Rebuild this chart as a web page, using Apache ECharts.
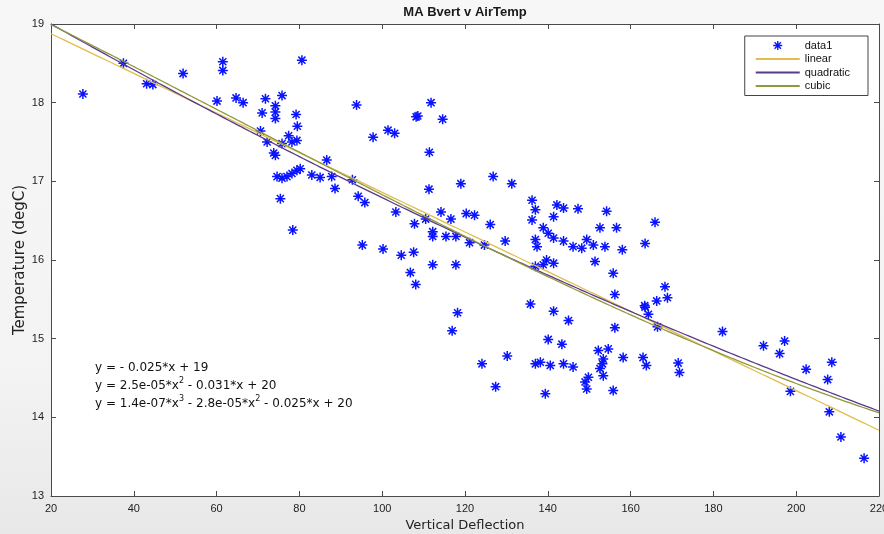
<!DOCTYPE html>
<html>
<head>
<meta charset="utf-8">
<script src="https://cdn.jsdelivr.net/npm/echarts@6/dist/echarts.min.js"></script>
<style>
  html, body { margin: 0; padding: 0; }
  #chart {
    width: 884px; height: 534px;
    background: linear-gradient(to bottom, #f7f7f7 0%, #f3f3f3 70%, #e8e8e8 100%);
  }
</style>
</head>
<body>
<div id="chart"></div>
<script>
// Vertical deflection readings and matching air temperature (degC)
const deflection = [
  27.7, 37.5, 43.1, 44.6, 51.9, 61.5, 61.5, 60.1, 64.7, 66.4,
  71.8, 75.8, 74.2, 74.2, 74.2, 71.0, 79.2, 79.5, 70.6, 72.2,
  77.4, 78.2, 79.4, 75.8, 74.2, 73.8, 80.6, 93.8, 97.8, 101.4,
  103.0, 108.2, 86.6, 80.2, 79.4, 78.2, 77.0, 75.8, 74.6, 83.0,
  85.0, 87.8, 88.6, 75.4, 92.8, 94.2, 95.8, 78.4, 103.3, 107.8,
  95.2, 100.2, 104.6, 107.6, 106.8, 108.1, 111.3, 110.5, 114.2, 116.6,
  112.2, 112.2, 115.4, 117.8, 112.2, 117.8, 118.2, 116.9, 111.8, 108.6,
  114.6, 111.4, 119.0, 126.8, 131.3, 120.3, 122.3, 126.1, 121.1, 124.7,
  129.7, 136.2, 137.0, 136.2, 142.2, 143.8, 141.4, 147.3, 154.2, 138.9,
  140.1, 141.4, 137.0, 137.4, 143.8, 146.1, 148.2, 149.4, 151.0, 152.6,
  156.6, 153.8, 158.0, 151.4, 139.7, 138.9, 137.0, 141.4, 155.8, 156.2,
  163.4, 135.8, 141.4, 145.0, 156.2, 140.1, 143.4, 124.1, 130.2, 137.0,
  138.2, 140.6, 143.8, 146.1, 152.2, 154.6, 153.4, 158.2, 163.0, 163.8,
  149.8, 149.0, 149.4, 152.6, 153.4, 155.8, 127.4, 139.4, 165.9, 163.5,
  168.3, 168.9, 166.3, 163.5, 164.3, 166.5, 182.2, 192.1, 197.2, 196.0,
  208.6, 202.4, 207.6, 198.6, 208.0, 210.8, 216.4, 171.5, 171.8, 153.2
];
const airTemp = [
  18.11, 18.50, 18.24, 18.23, 18.37, 18.52, 18.41, 18.02, 18.06, 18.00,
  18.05, 18.09, 17.96, 17.88, 17.80, 17.87, 17.85, 17.70, 17.64, 17.50,
  17.58, 17.50, 17.52, 17.48, 17.33, 17.36, 18.54, 17.97, 17.56, 17.65,
  17.61, 17.82, 17.27, 17.16, 17.14, 17.10, 17.06, 17.04, 17.06, 17.08,
  17.05, 17.06, 16.91, 16.78, 17.02, 16.81, 16.73, 16.38, 16.61, 16.46,
  16.19, 16.14, 16.06, 16.10, 15.84, 15.69, 16.90, 16.52, 16.61, 16.52,
  16.36, 16.30, 16.30, 16.30, 15.94, 15.94, 15.33, 15.10, 18.00, 17.83,
  17.79, 17.37, 16.97, 17.06, 16.97, 16.59, 16.57, 16.45, 16.22, 16.19,
  16.24, 16.76, 16.64, 16.51, 16.70, 16.66, 16.55, 16.65, 16.62, 16.41,
  16.34, 16.28, 16.26, 16.17, 16.24, 16.17, 16.15, 16.26, 16.19, 16.41,
  16.41, 16.17, 16.13, 15.98, 16.00, 15.94, 15.92, 15.96, 15.83, 15.56,
  15.42, 15.44, 15.35, 15.23, 15.14, 14.99, 14.93, 14.68, 14.78, 14.68,
  14.70, 14.66, 14.68, 14.64, 14.85, 14.87, 14.74, 14.76, 14.76, 14.66,
  14.51, 14.45, 14.36, 14.62, 14.53, 14.34, 14.39, 14.30, 16.48, 16.21,
  15.66, 15.52, 15.48, 15.40, 15.31, 15.15, 15.09, 14.91, 14.97, 14.81,
  14.70, 14.61, 14.48, 14.33, 14.07, 13.75, 13.48, 14.69, 14.57, 14.68
];

// Axis ticks
const xTicks = [20, 40, 60, 80, 100, 120, 140, 160, 180, 200, 220];
const yTicks = [13, 14, 15, 16, 17, 18, 19];

// Fitted polynomial coefficients, highest power first
const linearCoef = [-0.0252, 19.38];
const quadCoef = [2.5e-5, -0.0306, 19.602];
const cubicCoef = [1.4e-7, -2.8e-5, -0.0254, 19.51];

// Equation text shown on the axes
const fitLabels = [
  'y = - 0.025*x + 19',
  'y = 2.5e-05*x{sup|2} - 0.031*x + 20',
  'y = 1.4e-07*x{sup|3} - 2.8e-05*x{sup|2} - 0.025*x + 20'
];

const seriesNames = ['data1', 'linear', 'quadratic', 'cubic'];
const fitColors = ['#e2bd4c', '#5a3a8a', '#8f9a3e'];

// Eight-armed asterisk marker
const asterisk = 'path://M0,8.5L20,8.5L20,11.5L0,11.5Z' +
  'M8.5,0L11.5,0L11.5,20L8.5,20Z' +
  'M1.84,3.96L3.96,1.84L18.16,16.04L16.04,18.16Z' +
  'M16.04,1.84L18.16,3.96L3.96,18.16L1.84,16.04Z';

function polyval(coef, x) {
  return coef.reduce((acc, c) => acc * x + c, 0);
}
function curve(coef) {
  const pts = [];
  const x0 = xTicks[0], x1 = xTicks[xTicks.length - 1];
  for (let x = x0; x <= x1; x += 1) pts.push([x, polyval(coef, x)]);
  return pts;
}

const points = deflection.map((d, i) => [d, airTemp[i]]);

const chart = echarts.init(document.getElementById('chart'), null, { renderer: 'canvas' });

const axisCommon = {
  type: 'value',
  splitLine: { show: false },
  axisLine: { show: true, onZero: false, lineStyle: { color: '#4a4a4a', width: 1 } },
  axisTick: { show: true, inside: true, length: 5, lineStyle: { color: '#4a4a4a' } }
};
const xRange = { min: xTicks[0], max: xTicks[xTicks.length - 1], interval: xTicks[1] - xTicks[0] };
const yRange = { min: yTicks[0], max: yTicks[yTicks.length - 1], interval: yTicks[1] - yTicks[0] };

const legendLineEntry = name => ({ name, itemStyle: { opacity: 0 } });

chart.setOption({
  animation: false,
  textStyle: { fontFamily: 'Liberation Sans, Arial, sans-serif' },
  grid: {
    left: 51, right: 5, top: 24, bottom: 38,
    outerBoundsMode: 'none',
    containLabel: false,
    show: true, backgroundColor: '#ffffff', borderWidth: 0
  },
  legend: {
    orient: 'vertical',
    right: 16, top: 36,
    data: [
      { name: seriesNames[0] },
      legendLineEntry(seriesNames[1]),
      legendLineEntry(seriesNames[2]),
      legendLineEntry(seriesNames[3])
    ],
    itemWidth: 44, itemHeight: 9, itemGap: 2.5,
    padding: [4, 18, 4, 10],
    backgroundColor: '#ffffff',
    borderColor: '#444444', borderWidth: 1, borderRadius: 0,
    textStyle: { fontSize: 11, color: '#111111', fontFamily: 'Liberation Sans, Arial, sans-serif' },
    selectedMode: false
  },
  xAxis: [
    Object.assign({}, axisCommon, xRange, {
      position: 'bottom',
      name: 'Vertical Deflection',
      nameLocation: 'middle', nameGap: 21,
      nameTextStyle: { fontSize: 13, color: '#222222', fontFamily: 'DejaVu Sans, sans-serif' },
      axisLabel: { fontSize: 11, color: '#222222', margin: 7 }
    }),
    Object.assign({}, axisCommon, xRange, {
      position: 'top',
      axisLabel: { show: false }
    })
  ],
  yAxis: [
    Object.assign({}, axisCommon, yRange, {
      position: 'left',
      name: 'Temperature (degC)',
      nameLocation: 'middle', nameGap: 23,
      nameMoveOverlap: false,
      nameTextStyle: { fontSize: 15, color: '#222222', fontFamily: 'DejaVu Sans, sans-serif' },
      axisLabel: { fontSize: 11, color: '#222222', margin: 7 }
    }),
    Object.assign({}, axisCommon, yRange, {
      position: 'right',
      axisLabel: { show: false }
    })
  ],
  series: [
    {
      name: seriesNames[0],
      type: 'scatter',
      data: points,
      symbol: asterisk,
      symbolSize: 10,
      itemStyle: { color: '#0a14ff', opacity: 1 },
      z: 2
    },
    {
      name: seriesNames[1], type: 'line', data: curve(linearCoef),
      symbol: 'none', showSymbol: false, silent: true,
      lineStyle: { color: fitColors[0], width: 1.3 },
      itemStyle: { color: fitColors[0] }, z: 3
    },
    {
      name: seriesNames[2], type: 'line', data: curve(quadCoef),
      symbol: 'none', showSymbol: false, silent: true,
      lineStyle: { color: fitColors[1], width: 1.3 },
      itemStyle: { color: fitColors[1] }, z: 3
    },
    {
      name: seriesNames[3], type: 'line', data: curve(cubicCoef),
      symbol: 'none', showSymbol: false, silent: true,
      lineStyle: { color: fitColors[2], width: 1.3 },
      itemStyle: { color: fitColors[2] }, z: 3
    }
  ],
  graphic: [
    {
      type: 'text',
      x: 465, y: 12,
      style: {
        text: 'MA Bvert v AirTemp',
        align: 'center', verticalAlign: 'middle',
        font: 'bold 13px "Liberation Sans", Arial, sans-serif',
        fill: '#1a1a1a'
      }
    },
    {
      type: 'text',
      x: 95, y: 359,
      z: 10,
      style: {
        text: fitLabels.join('\n'),
        font: '12px "DejaVu Sans", sans-serif',
        fill: '#111111',
        lineHeight: 18,
        rich: {
          sup: { fontSize: 8, verticalAlign: 'top', lineHeight: 10,
                 fontFamily: 'DejaVu Sans, sans-serif', fill: '#111111' }
        }
      }
    }
  ]
});
</script>
</body>
</html>
